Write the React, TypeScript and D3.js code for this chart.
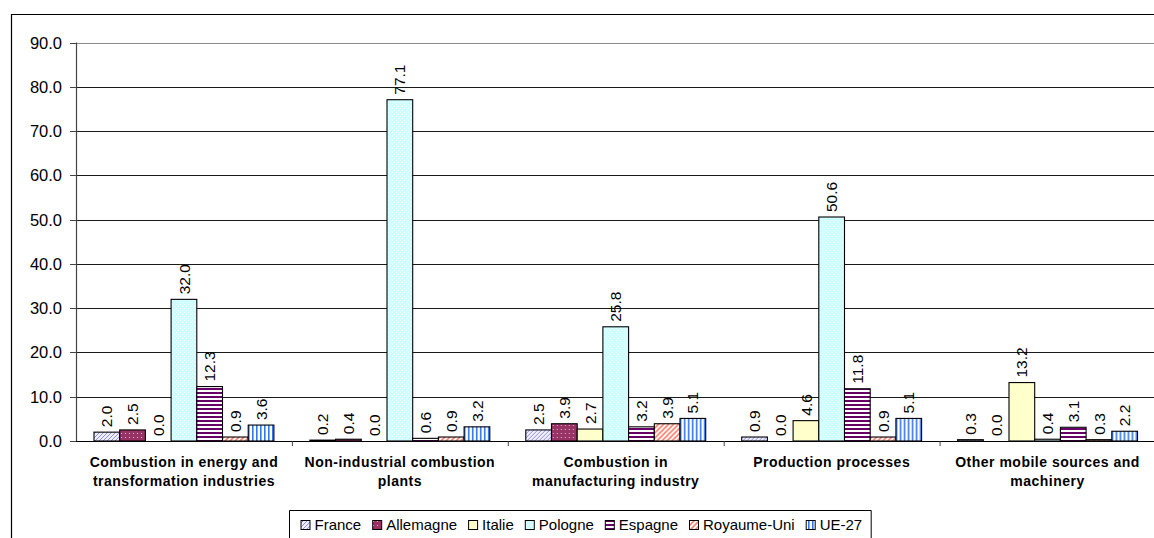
import React from "react";
import * as d3 from "d3";

const categories: string[][] = [
  ["Combustion in energy and", "transformation industries"],
  ["Non-industrial combustion", "plants"],
  ["Combustion in", "manufacturing industry"],
  ["Production processes"],
  ["Other mobile sources and", "machinery"],
];
const series = ["France", "Allemagne", "Italie", "Pologne", "Espagne", "Royaume-Uni", "UE-27"];
const France = [2.0, 0.2, 2.5, 0.9, 0.3];
const Allemagne = [2.5, 0.4, 3.9, 0.0, 0.0];
const Italie = [0.0, 0.0, 2.7, 4.6, 13.2];
const Pologne = [32.0, 77.1, 25.8, 50.6, 0.4];
const Espagne = [12.3, 0.6, 3.2, 11.8, 3.1];
const RoyaumeUni = [0.9, 0.9, 3.9, 0.9, 0.3];
const UE27 = [3.6, 3.2, 5.1, 5.1, 2.2];
const values = [France, Allemagne, Italie, Pologne, Espagne, RoyaumeUni, UE27];
const yTicks = [0, 10, 20, 30, 40, 50, 60, 70, 80, 90];

const FONT = "'Liberation Sans', Arial, sans-serif";

function Patterns() {
  return (
    <defs>
      <pattern id="p0" patternUnits="userSpaceOnUse" width="4" height="4">
        <rect width="4" height="4" fill="#eeeeff" />
        <path d="M-1,1 L1,-1 M0,4 L4,0 M3,5 L5,3" stroke="#8f8fe8" strokeWidth="1" />
      </pattern>
      <pattern id="p1" patternUnits="userSpaceOnUse" width="4" height="4">
        <rect width="4" height="4" fill="#993366" />
        <rect x="1" y="1" width="1" height="1" fill="#e8b8d0" />
      </pattern>
      <pattern id="p2" patternUnits="userSpaceOnUse" width="4" height="4">
        <rect width="4" height="4" fill="#ffffcc" />
      </pattern>
      <pattern id="p3" patternUnits="userSpaceOnUse" width="4" height="4">
        <rect width="4" height="4" fill="#ccffff" />
        <rect x="0" y="0" width="1" height="1" fill="#ffffff" />
        <rect x="2" y="2" width="1" height="1" fill="#ffffff" />
      </pattern>
      <pattern id="p4" patternUnits="userSpaceOnUse" width="4" height="4">
        <rect width="4" height="4" fill="#ffffff" />
        <rect y="0" width="4" height="2" fill="#660066" />
      </pattern>
      <pattern id="p5" patternUnits="userSpaceOnUse" width="5" height="5">
        <rect width="5" height="5" fill="#ffffff" />
        <path d="M-1,1 L1,-1 M0,5 L5,0 M4,6 L6,4" stroke="#ff7f6f" strokeWidth="1.6" />
      </pattern>
      <pattern id="p6" patternUnits="userSpaceOnUse" width="4" height="4">
        <rect width="4" height="4" fill="#ffffff" />
        <rect x="0" width="1.6" height="4" fill="#3377ee" />
      </pattern>
    </defs>
  );
}

export default function App() {
  const W = 1154;
  const H = 538;
  const x0 = d3
    .scaleBand<number>()
    .domain(categories.map((_, i) => i))
    .range([76, 1155.5])
    .paddingInner(0)
    .paddingOuter(0);
  const x1 = d3
    .scaleBand<number>()
    .domain(series.map((_, i) => i))
    .range([0, x0.bandwidth()])
    .paddingInner(0)
    .paddingOuter(0.7);
  const y = d3.scaleLinear().domain([0, 90]).range([441, 42.6]);
  const fmt = d3.format(".1f");

  // legend layout
  const legendFont = 15;
  const textW = (s: string) => {
    const w: Record<string, number> = {
      France: 46.7, Allemagne: 70.9, Italie: 31.7, Pologne: 55, Espagne: 59.2, "Royaume-Uni": 91.7, "UE-27": 42.5,
    };
    return w[s];
  };
  const legendX = 289.5;
  let cur = legendX + 11;
  const legendItems = series.map((s, i) => {
    const item = { s, i, x: cur };
    cur += 9 + 5 + textW(s) + 11;
    return item;
  });
  const legendRight = cur - 2;

  return (
    <svg
      width={W}
      height={H}
      style={{ position: "absolute", left: 0, top: 0, background: "#fff" }}
      fontFamily={FONT}
    >
      <Patterns />
      <rect x={0} y={0} width={W} height={H} fill="#fff" />
      {/* outer frame */}
      <path d={`M11.5,${H + 2} L11.5,14.5 L${W + 2},14.5`} fill="none" stroke="#000" strokeWidth={1.2} />

      {/* gridlines */}
      {yTicks.map((t) => (
        <line
          key={t}
          x1={76}
          x2={W + 2}
          y1={Math.round(y(t)) + 0.5}
          y2={Math.round(y(t)) + 0.5}
          stroke={t === 90 ? "#8a8a8a" : t === 0 ? "none" : "#1a1a1a"}
          strokeWidth={1}
        />
      ))}

      {/* y axis */}
      <line x1={76.5} x2={76.5} y1={y(90)} y2={y(0)} stroke="#444" strokeWidth={1.2} />
      {yTicks.map((t) => (
        <g key={"yt" + t}>
          <line x1={70} x2={76} y1={Math.round(y(t)) + 0.5} y2={Math.round(y(t)) + 0.5} stroke="#444" />
          <text x={62} y={y(t)} dy="0.36em" textAnchor="end" fontSize={16.5} fill="#000">
            {fmt(t)}
          </text>
        </g>
      ))}

      {/* bars */}
      {categories.map((_, ci) => (
        <g key={"c" + ci} transform={`translate(${x0(ci)},0)`}>
          {series.map((s, si) => {
            const v = values[si][ci];
            const bx = x1(si)!;
            const bw = x1.bandwidth();
            const top = y(v);
            return (
              <g key={s}>
                {v > 0 && (
                  <rect
                    x={bx}
                    y={top}
                    width={bw}
                    height={y(0) - top}
                    fill={`url(#p${si})`}
                    stroke="#000"
                    strokeWidth={1.1}
                  />
                )}
                <text
                  transform={`translate(${bx + bw / 2},${top - 5}) rotate(-90)`}
                  dy="0.36em"
                  textAnchor="start"
                  fontSize={15.5}
                  fill="#000"
                >
                  {fmt(v)}
                </text>
              </g>
            );
          })}
        </g>
      ))}

      {/* x axis */}
      <line x1={76} x2={W + 2} y1={441.5} y2={441.5} stroke="#000" strokeWidth={1.2} />
      {categories.map((_, ci) =>
        ci === 0 ? null : (
          <line key={"xt" + ci} x1={x0(ci)! + 0.5} x2={x0(ci)! + 0.5} y1={441} y2={446} stroke="#444" />
        )
      )}
      {categories.map((lines, ci) => (
        <text
          key={"xl" + ci}
          x={x0(ci)! + x0.bandwidth() / 2}
          y={466.5}
          textAnchor="middle"
          fontSize={14}
          fontWeight="bold"
          letterSpacing={0.5}
          fill="#000"
        >
          {lines.map((l, li) => (
            <tspan key={li} x={x0(ci)! + x0.bandwidth() / 2} dy={li === 0 ? 0 : 19.5}>
              {l}
            </tspan>
          ))}
        </text>
      ))}

      {/* legend */}
      <path
        d={`M${legendX},${H + 2} L${legendX},510.5 L${legendRight},510.5 L${legendRight},${H + 2}`}
        fill="#fff"
        stroke="#000"
        strokeWidth={1}
      />
      {legendItems.map((it) => (
        <g key={it.s}>
          <rect x={it.x + 0.5} y={520.5} width={9} height={9} fill={`url(#p${it.i})`} stroke="#000" strokeWidth={1} />
          <text x={it.x + 14} y={525} dy="0.36em" fontSize={legendFont} fill="#000">
            {it.s}
          </text>
        </g>
      ))}
    </svg>
  );
}
